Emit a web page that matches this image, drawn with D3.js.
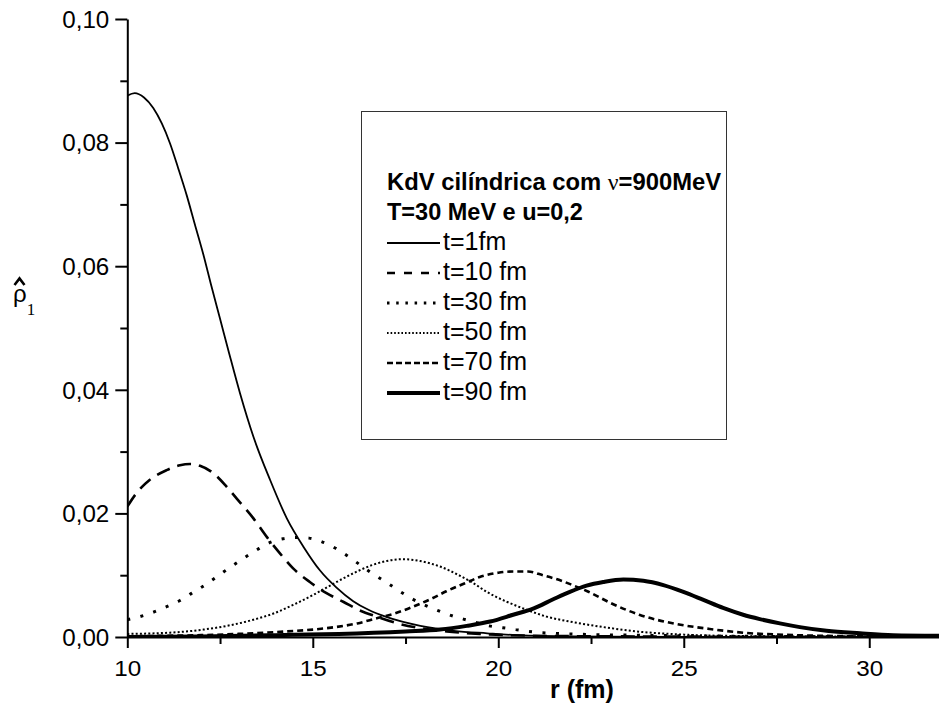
<!DOCTYPE html>
<html>
<head>
<meta charset="utf-8">
<title>KdV cilindrica</title>
<script src="https://d3js.org/d3.v7.min.js"></script>
<style>
body { margin: 0; background: #fff; }
text { font-family: "Liberation Sans", Arial, sans-serif; fill: #000; }
</style>
</head>
<body>
<script>
const width = 939;
const height = 709;

// ticks
const xMajor = [10, 15, 20, 25, 30];
const xMinor = [12.5, 17.5, 22.5, 27.5];
const yMajor = [0, 0.02, 0.04, 0.06, 0.08, 0.10];
const yMinor = [0.01, 0.03, 0.05, 0.07, 0.09];

// series: [r (fm), rho1]
const t1 = [[10.0,0.0876],[10.2,0.0880],[10.45,0.0873],[10.7,0.0856],[10.93,0.0831],[11.15,0.0799],
  [11.37,0.0759],[11.6,0.0715],[11.82,0.0668],[12.05,0.0619],[12.27,0.0567],[12.5,0.0515],
  [12.75,0.0458],[13.04,0.0394],[13.4,0.0324],[13.85,0.0254],[14.3,0.0192],[14.76,0.0145],
  [15.19,0.0108],[15.64,0.0080],[16.09,0.0058],[16.5,0.0044],[17.0,0.0032],[17.9,0.0018],
  [18.8,0.0010],[19.7,0.0006],[20.5,0.0003],[22,0.0001],[25,0.00003],[31.9,0]];
const t10 = [[10.0,0.0211],[10.25,0.0233],[10.6,0.0254],[11.06,0.0270],[11.42,0.0278],[11.69,0.0280],
  [11.96,0.0277],[12.32,0.0265],[12.68,0.0243],[12.95,0.0224],[13.4,0.0192],[13.76,0.0162],
  [14.12,0.0135],[14.47,0.0111],[14.92,0.0089],[15.37,0.0071],[15.82,0.0057],[16.23,0.0044],
  [16.72,0.0033],[17.35,0.0021],[17.94,0.0014],[18.61,0.0009],[19.5,0.0005],[21,0.0002],
  [23,0.0001],[31.9,0]];
const t30 = [[10.0,0.0028],[10.34,0.0033],[10.7,0.0040],[11.06,0.0049],[11.42,0.0059],[11.74,0.0071],
  [12.09,0.0084],[12.45,0.0099],[12.8,0.0114],[13.15,0.0128],[13.49,0.0141],[13.85,0.0153],
  [14.2,0.0159],[14.55,0.0161],[14.9,0.0160],[15.25,0.0154],[15.6,0.0144],[15.94,0.0131],
  [16.27,0.0117],[16.6,0.0103],[16.97,0.0089],[17.32,0.0075],[17.67,0.0062],[18.01,0.0052],
  [18.36,0.0043],[18.72,0.0035],[19.06,0.0029],[19.42,0.0023],[19.75,0.0018],[20.12,0.0015],
  [20.47,0.0012],[20.81,0.0009],[21.16,0.0007],[21.51,0.0006],[21.84,0.0005],[22.5,0.0004],
  [23.5,0.0003],[25,0.0002],[27,0.0001],[31.9,0.00002]];
const t50 = [[10.0,0.0005],[11.15,0.0007],[12.05,0.0012],[12.77,0.0019],[13.4,0.0028],[13.94,0.0038],
  [14.47,0.0052],[15.01,0.0068],[15.55,0.0086],[16.09,0.0103],[16.63,0.0117],[16.99,0.0123],
  [17.43,0.0126],[17.89,0.0123],[18.43,0.0114],[18.97,0.0099],[19.33,0.0087],[19.69,0.0073],
  [20.23,0.0057],[20.77,0.0044],[21.3,0.0033],[21.93,0.0025],[22.84,0.0016],[23.73,0.0009],
  [24.63,0.0005],[26,0.0002],[28,0.0001],[31.9,0.00003]];
const t70 = [[10,0.0001],[11,0.0002],[12,0.0003],[13,0.0005],[14,0.0008],[15,0.0012],[15.6,0.0016],
  [16.2,0.0022],[16.7,0.0030],[17.2,0.0038],[17.7,0.0049],[18.2,0.0062],[18.6,0.0074],[19.1,0.0087],
  [19.5,0.0097],[20.0,0.0104],[20.4,0.0106],[20.8,0.0106],[21.2,0.0100],[21.7,0.0091],[22.0,0.0084],
  [22.4,0.0074],[23.1,0.0053],[23.8,0.0036],[24.8,0.0021],[25.7,0.0013],[26.6,0.0007],[28,0.0003],
  [30,0.0001],[31.9,0.00005]];
const t90 = [[10,0],[12,0.0001],[14,0.0003],[15.7,0.0005],[17.5,0.0009],[18.43,0.0012],[19.15,0.0018],
  [19.78,0.0025],[20.4,0.0036],[20.94,0.0046],[21.48,0.0061],[21.93,0.0073],[22.38,0.0083],
  [22.83,0.0089],[23.37,0.0093],[23.91,0.0091],[24.45,0.0084],[24.99,0.0073],[25.53,0.0060],
  [26.06,0.0047],[26.6,0.0036],[27.05,0.0029],[27.59,0.0022],[28.13,0.0016],[28.85,0.0010],
  [29.75,0.0006],[30.64,0.0003],[31.9,0.0002]];

const labels = ["t=1fm", "t=10 fm", "t=30 fm", "t=50 fm", "t=70 fm", "t=90 fm"];
const seriesData = [t1, t10, t30, t50, t70, t90];

// line look per series (width, dash on curve, dash in legend)
const looks = [
  { w: 1.8, dash: null,     leg: null },
  { w: 2.6, dash: "14,8",   leg: "8,9" },
  { w: 3,   dash: "3,10.5", leg: "2.5,6.7" },
  { w: 2,   dash: "2,2.2",  leg: "1.6,2" },
  { w: 2.6, dash: "6,4",    leg: "6,3" },
  { w: 4,   dash: null,     leg: null }
];

const svg = d3.select("body").append("svg")
  .attr("width", width)
  .attr("height", height);

const x = d3.scaleLinear().domain([10, 31.88]).range([127.3, 939]);
const y = d3.scaleLinear().domain([0, 0.1]).range([637, 19]);

svg.append("clipPath").attr("id", "plot")
  .append("rect").attr("x", x(10)).attr("y", y(0.1)).attr("width", 939 - x(10)).attr("height", y(0) - y(0.1));

const line = d3.line().x(d => x(d[0])).y(d => y(d[1])).curve(d3.curveMonotoneX);

svg.append("g").attr("clip-path", "url(#plot)")
  .selectAll("path")
  .data(seriesData)
  .join("path")
  .attr("d", line)
  .attr("fill", "none")
  .attr("stroke", "#000")
  .attr("stroke-width", (d, i) => looks[i].w)
  .attr("stroke-dasharray", (d, i) => looks[i].dash);

const fmt = d => d3.format(".2f")(d).replace(".", ",");

// y axis
const gy = svg.append("g").attr("transform", `translate(${x(10)},0)`)
  .call(d3.axisLeft(y).tickValues(yMajor).tickSize(12).tickSizeOuter(0).tickFormat(fmt));
svg.append("g").attr("transform", `translate(${x(10)},0)`)
  .call(d3.axisLeft(y).tickValues(yMinor).tickSize(7).tickFormat(""))
  .call(g => g.select(".domain").remove());
gy.selectAll(".tick text")
  .attr("x", 0).attr("dy", "0.36em")
  .attr("transform", "translate(-18,0) scale(1.05,1)")
  .style("font-size", "23px");

// x axis
const gx = svg.append("g").attr("transform", `translate(0,${y(0)})`)
  .call(d3.axisBottom(x).tickValues(xMajor).tickSize(11).tickSizeOuter(0).tickFormat(d3.format("d")));
svg.append("g").attr("transform", `translate(0,${y(0)})`)
  .call(d3.axisBottom(x).tickValues(xMinor).tickSize(7).tickFormat(""))
  .call(g => g.select(".domain").remove());
gx.selectAll(".tick text")
  .attr("y", 0).attr("dy", 0)
  .attr("transform", "translate(0,39) scale(1.1,1)")
  .style("font-size", "22px");

svg.selectAll(".domain").attr("stroke-width", 2);
svg.selectAll(".tick line").attr("stroke-width", 2);
svg.selectAll("g text").attr("font-family", null);

// axis titles
svg.append("text").attr("x", 550).attr("y", 698)
  .style("font-size", "25px").style("font-weight", "bold")
  .text("r (fm)");

const yl = svg.append("text").attr("x", 13).attr("y", 302).style("font-size", "24px");
yl.append("tspan").text("ρ");
yl.append("tspan").attr("dy", 13)
  .style("font-family", "'Liberation Serif', serif").style("font-size", "17px").text("1");
// hat over rho
svg.append("path")
  .attr("d", "M14.5,285 L19.5,278.5 L24.5,285")
  .attr("fill", "none").attr("stroke", "#000").attr("stroke-width", 2.6);

// legend
const lg = svg.append("g");
lg.append("rect").attr("x", 361.5).attr("y", 111.5).attr("width", 365).attr("height", 328)
  .attr("fill", "#fff").attr("stroke", "#333").attr("stroke-width", 1);

const title = lg.append("text").attr("x", 387).attr("y", 190)
  .style("font-size", "23.8px").style("font-weight", "bold");
title.append("tspan").text("KdV cilíndrica com ");
title.append("tspan").style("font-weight", "normal").style("font-family", "'Liberation Serif', serif").text("ν");
title.append("tspan").text("=900MeV");
lg.append("text").attr("x", 387).attr("y", 220)
  .style("font-size", "23.5px").style("font-weight", "bold")
  .text("T=30 MeV e u=0,2");

const rows = lg.selectAll("g.row").data(labels).join("g")
  .attr("class", "row")
  .attr("transform", (d, i) => `translate(0,${250 + i * 30})`);
rows.append("line")
  .attr("x1", 387).attr("x2", 440).attr("y1", -7).attr("y2", -7)
  .attr("stroke", "#000")
  .attr("stroke-width", (d, i) => looks[i].w)
  .attr("stroke-dasharray", (d, i) => looks[i].leg);
rows.append("text").attr("x", 443).attr("y", 0)
  .style("font-size", "25px")
  .text(d => d);
</script>
</body>
</html>
